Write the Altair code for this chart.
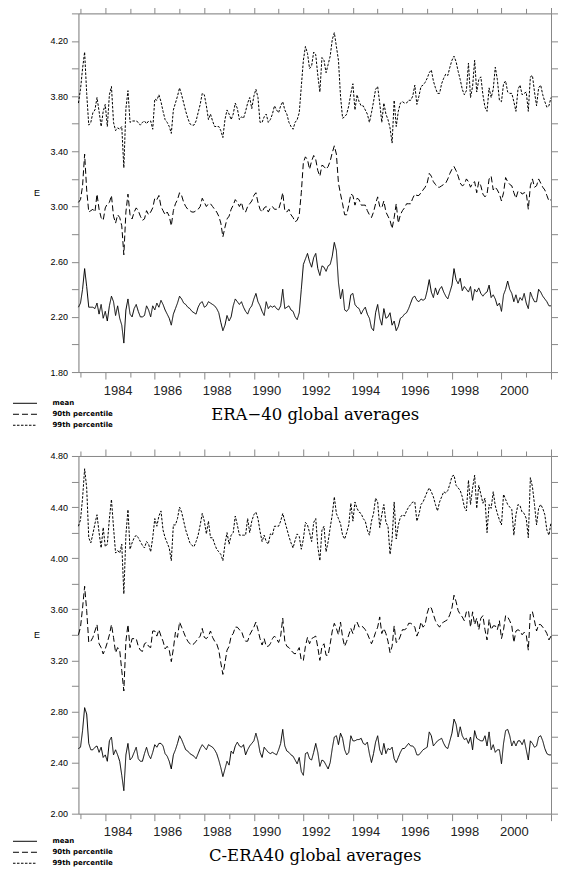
import json
import altair as alt
import pandas as pd

# monthly series, first value = Dec 1982, last = Jan 2002
START_YEAR = 1982 + 11 / 12
END_YEAR = 2002.0
SERIES = ["mean", "90th percentile", "99th percentile"]
DASHES = [[1, 0], [6, 3], [2.5, 1.5]]
YEAR_TICKS = list(range(1983, 2003))
YEAR_LABELS = [1984, 1986, 1988, 1990, 1992, 1994, 1996, 1998, 2000]

Y1_TICKS = [1.8, 2.0, 2.2, 2.4, 2.6, 2.8, 3.0, 3.2, 3.4, 3.6, 3.8, 4.0, 4.2, 4.4]
Y1_LABELS = ["1.80", "2.20", "2.60", "3.00", "3.40", "3.80", "4.20"]
Y2_TICKS = [2.0, 2.2, 2.4, 2.6, 2.8, 3.0, 3.2, 3.4, 3.6, 3.8, 4.0, 4.2, 4.4, 4.6, 4.8]
Y2_LABELS = ["2.00", "2.40", "2.80", "3.20", "3.60", "4.00", "4.40", "4.80"]

TITLE1 = "ERA\u221240 global averages"
TITLE2 = "C-ERA40 global averages"

# ---------------- ERA-40 ----------------
P1_MEAN = [
    2.27, 2.30, 2.40, 2.55, 2.42, 2.27, 2.27, 2.27, 2.26, 2.30,
    2.22, 2.29, 2.19, 2.24, 2.17, 2.28, 2.35, 2.31, 2.21, 2.28,
    2.19, 2.14, 2.01, 2.25, 2.33, 2.22, 2.20, 2.26, 2.29, 2.24,
    2.20, 2.20, 2.21, 2.28, 2.25, 2.20, 2.28, 2.25, 2.30, 2.27,
    2.32, 2.29, 2.25, 2.22, 2.19, 2.14, 2.22, 2.26, 2.30, 2.35,
    2.33, 2.30, 2.29, 2.27, 2.26, 2.24, 2.23, 2.22, 2.27, 2.30,
    2.31, 2.27, 2.28, 2.31, 2.30, 2.29, 2.28, 2.26, 2.23, 2.16,
    2.10, 2.14, 2.21, 2.17, 2.20, 2.28, 2.33, 2.31, 2.29, 2.31,
    2.27, 2.24, 2.22, 2.26, 2.28, 2.33, 2.37, 2.31, 2.28, 2.24,
    2.21, 2.31, 2.26, 2.28, 2.27, 2.28, 2.26, 2.25, 2.28, 2.40,
    2.26, 2.27, 2.28, 2.25, 2.24, 2.20, 2.18, 2.23, 2.40, 2.58,
    2.62, 2.66, 2.60, 2.56, 2.63, 2.66, 2.55, 2.50, 2.57, 2.56,
    2.53, 2.57, 2.58, 2.64, 2.74, 2.68, 2.45, 2.33, 2.40, 2.25,
    2.24, 2.26, 2.36, 2.37, 2.29, 2.27, 2.26, 2.22, 2.25, 2.27,
    2.22, 2.19, 2.12, 2.10, 2.23, 2.29, 2.19, 2.14, 2.26, 2.19,
    2.20, 2.23, 2.14, 2.17, 2.10, 2.13, 2.19, 2.20, 2.22, 2.23,
    2.26, 2.30, 2.34, 2.35, 2.32, 2.31, 2.33, 2.32, 2.33, 2.39,
    2.47, 2.38, 2.34, 2.41, 2.36, 2.40, 2.42, 2.38, 2.35, 2.33,
    2.38, 2.43, 2.55, 2.47, 2.44, 2.48, 2.39, 2.42, 2.40, 2.38,
    2.42, 2.32, 2.40, 2.38, 2.41, 2.37, 2.35, 2.37, 2.38, 2.43,
    2.34, 2.36, 2.33, 2.28, 2.30, 2.24, 2.36, 2.40, 2.46, 2.40,
    2.37, 2.31, 2.36, 2.30, 2.34, 2.32, 2.37, 2.30, 2.26, 2.38,
    2.34, 2.31, 2.31, 2.40, 2.38, 2.35, 2.33, 2.31, 2.28, 2.28,
]
P1_P90 = [
    3.03, 3.05, 3.15, 3.38, 3.12, 2.96, 2.97, 2.98, 2.96, 3.09,
    2.98, 2.92, 2.90, 2.99, 3.02, 3.03, 3.08, 2.93, 2.88, 2.94,
    2.92, 2.86, 2.65, 2.96, 3.09, 2.94, 2.91, 2.96, 2.99, 2.97,
    2.93, 2.90, 2.91, 2.97, 2.94, 2.96, 2.99, 3.06, 3.05, 3.08,
    3.00, 2.97, 2.94, 2.96, 2.93, 2.86, 2.97, 3.02, 3.05, 3.10,
    3.08, 3.03, 3.00, 2.98, 2.97, 2.96, 2.96, 2.97, 2.98, 3.00,
    3.06, 3.03, 3.00, 3.02, 3.02, 3.00, 2.98, 2.96, 2.93, 2.88,
    2.78, 2.85, 2.91, 2.93, 2.98, 3.01, 3.05, 3.03, 3.00, 3.03,
    2.97, 2.96, 3.00, 3.02, 3.04, 3.08, 3.10, 3.03, 2.98, 2.96,
    2.99, 3.00, 2.96, 2.99, 3.00, 2.98, 2.98, 2.98, 3.03, 3.10,
    2.97, 2.96, 2.98, 2.94, 2.92, 2.89, 2.90, 2.94, 3.10, 3.32,
    3.36, 3.34, 3.27, 3.33, 3.37, 3.34, 3.26, 3.22, 3.30, 3.29,
    3.27, 3.29, 3.33, 3.39, 3.44, 3.38, 3.17, 3.09, 3.02, 2.94,
    2.94, 3.01, 3.09, 3.08, 3.01, 3.06, 3.05, 3.01, 3.01, 3.01,
    2.97, 2.94, 2.92, 2.96, 3.02, 3.07, 3.00, 2.99, 3.04, 2.96,
    2.93, 2.90, 2.84, 2.92, 3.02, 2.88, 2.94, 2.97, 2.99, 3.02,
    3.02, 3.02, 3.06, 3.09, 3.08, 3.08, 3.10, 3.12, 3.14, 3.17,
    3.24, 3.22, 3.18, 3.16, 3.14, 3.14, 3.15, 3.16, 3.17, 3.20,
    3.24, 3.27, 3.29, 3.26, 3.22, 3.17, 3.15, 3.16, 3.20, 3.18,
    3.14, 3.17, 3.18, 3.10, 3.18, 3.15, 3.09, 3.07, 3.09, 3.20,
    3.22, 3.12, 3.14, 3.12, 3.09, 3.04, 3.10, 3.21, 3.18, 3.16,
    3.15, 3.10, 3.06, 3.11, 3.11, 3.09, 3.10, 3.10, 2.98, 3.15,
    3.20, 3.14, 3.15, 3.20, 3.17, 3.14, 3.12, 3.08, 3.04, 3.05,
]
P1_P99 = [
    3.75, 3.85, 4.00, 4.12, 3.82, 3.59, 3.61, 3.68, 3.70, 3.79,
    3.69, 3.58, 3.69, 3.74, 3.58, 3.81, 3.87, 3.61, 3.55, 3.57,
    3.56, 3.58, 3.28, 3.71, 3.84, 3.61, 3.62, 3.62, 3.62, 3.61,
    3.59, 3.61, 3.62, 3.60, 3.62, 3.62, 3.56, 3.78, 3.77, 3.81,
    3.76, 3.69, 3.63, 3.61, 3.58, 3.53, 3.70, 3.75, 3.80, 3.86,
    3.81, 3.75, 3.69, 3.64, 3.60, 3.59, 3.59, 3.62, 3.68, 3.74,
    3.82, 3.81, 3.73, 3.63, 3.67, 3.62, 3.58, 3.58, 3.58, 3.55,
    3.50, 3.63, 3.70, 3.67, 3.63, 3.67, 3.75, 3.71, 3.63, 3.65,
    3.64, 3.69, 3.75, 3.79, 3.71, 3.80, 3.85, 3.79, 3.61, 3.61,
    3.65, 3.67, 3.61, 3.63, 3.67, 3.73, 3.70, 3.68, 3.73, 3.76,
    3.70, 3.67, 3.61, 3.58, 3.56, 3.61, 3.63, 3.68, 3.87, 4.06,
    4.16, 4.11, 4.00, 4.02, 4.12, 4.10, 3.95, 3.83, 4.08, 4.06,
    3.97, 4.03, 4.09, 4.21, 4.26, 4.16, 4.06, 3.80, 3.64, 3.65,
    3.67, 3.73, 3.82, 3.89, 3.70, 3.81, 3.76, 3.73, 3.73, 3.70,
    3.67, 3.61, 3.68, 3.76, 3.85, 3.87, 3.75, 3.61, 3.75, 3.67,
    3.63, 3.57, 3.46, 3.77, 3.58, 3.69, 3.75, 3.76, 3.75, 3.75,
    3.77, 3.77, 3.80, 3.88, 3.74, 3.80, 3.87, 3.88, 3.90, 3.93,
    3.97, 3.99, 3.91, 3.86, 3.82, 3.82, 3.89, 3.93, 3.96, 3.95,
    4.01, 4.06, 4.09, 4.05, 3.98, 3.92, 3.85, 3.81, 3.84, 4.04,
    3.79, 3.87, 4.06, 3.83, 3.92, 3.94, 3.81, 3.72, 3.69, 3.86,
    3.79, 3.85, 4.01, 3.92, 3.77, 3.76, 3.89, 3.91, 3.83, 3.82,
    3.82, 3.76, 3.69, 3.85, 3.88, 3.81, 3.82, 3.83, 3.69, 3.94,
    3.95, 3.83, 3.73, 3.86, 3.88, 3.81, 3.76, 3.72, 3.73, 3.79,
]

# ---------------- C-ERA40 ----------------
P2_MEAN = [
    2.51, 2.52, 2.65, 2.83, 2.78, 2.55, 2.50, 2.50, 2.52, 2.53,
    2.48, 2.52, 2.44, 2.46, 2.41, 2.57, 2.60, 2.46, 2.50, 2.46,
    2.41, 2.30, 2.18, 2.46, 2.55, 2.42, 2.44, 2.48, 2.52, 2.43,
    2.41, 2.41, 2.47, 2.52, 2.46, 2.43, 2.48, 2.54, 2.52, 2.55,
    2.55, 2.53, 2.47, 2.45, 2.41, 2.35, 2.46, 2.50, 2.55, 2.61,
    2.58, 2.54, 2.50, 2.49, 2.47, 2.46, 2.45, 2.43, 2.47, 2.51,
    2.54, 2.52, 2.50, 2.54, 2.53, 2.52, 2.50, 2.47, 2.42, 2.36,
    2.29, 2.35, 2.41, 2.38, 2.49, 2.47, 2.53, 2.56, 2.53, 2.52,
    2.54, 2.46, 2.50, 2.53, 2.55, 2.57, 2.63, 2.57, 2.48, 2.44,
    2.52, 2.50, 2.48, 2.47, 2.48, 2.47, 2.46, 2.50, 2.55, 2.66,
    2.53, 2.49, 2.48, 2.46, 2.45, 2.42, 2.39, 2.44, 2.33, 2.30,
    2.47, 2.48, 2.43, 2.42, 2.48, 2.55, 2.48, 2.37, 2.42, 2.41,
    2.38, 2.35, 2.40, 2.51, 2.60, 2.61, 2.54, 2.63, 2.59, 2.50,
    2.46, 2.48, 2.61, 2.57, 2.57, 2.58, 2.58, 2.59, 2.55, 2.54,
    2.56, 2.47, 2.40, 2.47, 2.56, 2.61, 2.50, 2.46, 2.55, 2.47,
    2.51, 2.50, 2.52, 2.43, 2.40, 2.44, 2.48, 2.51, 2.51, 2.53,
    2.55, 2.53, 2.53, 2.51, 2.46, 2.46, 2.48, 2.50, 2.51, 2.52,
    2.64, 2.61, 2.53, 2.55, 2.57, 2.58, 2.59, 2.55, 2.52, 2.51,
    2.57, 2.63, 2.74, 2.70, 2.60, 2.68, 2.61, 2.58, 2.59, 2.55,
    2.60, 2.50, 2.65, 2.59, 2.58, 2.57, 2.57, 2.61, 2.53, 2.64,
    2.50, 2.54, 2.48, 2.50, 2.50, 2.39, 2.55, 2.65, 2.66, 2.61,
    2.53, 2.57, 2.53, 2.57, 2.57, 2.54, 2.58, 2.50, 2.42, 2.57,
    2.55, 2.52, 2.53, 2.60, 2.61, 2.57, 2.51, 2.47, 2.46, 2.46,
]
P2_P90 = [
    3.40, 3.46, 3.61, 3.78, 3.59, 3.34, 3.35, 3.38, 3.43, 3.48,
    3.33, 3.30, 3.25, 3.29, 3.34, 3.40, 3.48, 3.38, 3.26, 3.30,
    3.28, 3.12, 2.96, 3.35, 3.48, 3.30, 3.37, 3.37, 3.37, 3.31,
    3.28, 3.27, 3.33, 3.34, 3.31, 3.30, 3.43, 3.43, 3.39, 3.44,
    3.39, 3.35, 3.29, 3.31, 3.28, 3.19, 3.29, 3.42, 3.38, 3.50,
    3.46, 3.42, 3.38, 3.35, 3.33, 3.32, 3.33, 3.35, 3.37, 3.39,
    3.45, 3.38, 3.37, 3.39, 3.43, 3.38, 3.35, 3.33, 3.28, 3.18,
    3.09, 3.18, 3.28, 3.31, 3.39, 3.41, 3.46, 3.46, 3.44, 3.43,
    3.38, 3.35, 3.35, 3.40, 3.43, 3.46, 3.50, 3.44, 3.37, 3.32,
    3.37, 3.31, 3.31, 3.33, 3.37, 3.39, 3.37, 3.34, 3.39, 3.53,
    3.35, 3.31, 3.30, 3.28, 3.26, 3.25, 3.27, 3.30, 3.20, 3.20,
    3.31, 3.38, 3.33, 3.37, 3.38, 3.39, 3.30, 3.20, 3.31, 3.33,
    3.24, 3.24, 3.33, 3.43, 3.49, 3.45, 3.40, 3.50, 3.38, 3.31,
    3.35, 3.40, 3.45, 3.41, 3.48, 3.50, 3.46, 3.47, 3.46, 3.44,
    3.41, 3.37, 3.33, 3.37, 3.42, 3.46, 3.54, 3.41, 3.45, 3.41,
    3.35, 3.26, 3.31, 3.47, 3.34, 3.35, 3.39, 3.44, 3.44, 3.45,
    3.49, 3.49, 3.48, 3.46, 3.39, 3.43, 3.50, 3.46, 3.48, 3.57,
    3.62, 3.61, 3.56, 3.51, 3.48, 3.46, 3.49, 3.50, 3.51, 3.52,
    3.56, 3.61, 3.71, 3.66, 3.59, 3.56, 3.54, 3.51, 3.58, 3.59,
    3.46, 3.58, 3.48, 3.53, 3.44, 3.53, 3.55, 3.44, 3.36, 3.52,
    3.44, 3.47, 3.47, 3.44, 3.51, 3.37, 3.44, 3.55, 3.54, 3.51,
    3.47, 3.34, 3.43, 3.44, 3.43, 3.40, 3.42, 3.40, 3.28, 3.57,
    3.58, 3.51, 3.43, 3.48, 3.48, 3.46, 3.44, 3.41, 3.36, 3.39,
]
P2_P99 = [
    4.25, 4.30, 4.47, 4.70, 4.55, 4.16, 4.12, 4.19, 4.27, 4.34,
    4.20, 4.08, 4.24, 4.09, 4.11, 4.31, 4.46, 4.24, 4.04, 4.06,
    4.04, 4.11, 3.72, 4.18, 4.38, 4.07, 4.12, 4.16, 4.18, 4.16,
    4.13, 4.10, 4.08, 4.13, 4.11, 4.05, 4.16, 4.31, 4.25, 4.33,
    4.37, 4.22, 4.16, 4.12, 4.08, 3.98, 4.26, 4.26, 4.31, 4.40,
    4.36, 4.29, 4.22, 4.17, 4.12, 4.10, 4.09, 4.13, 4.18, 4.26,
    4.35, 4.29, 4.19, 4.29, 4.16, 4.16, 4.11, 4.07, 4.05, 4.03,
    3.98, 4.11, 4.20, 4.11, 4.18, 4.20, 4.33, 4.26, 4.18, 4.18,
    4.18, 4.18, 4.31, 4.20, 4.29, 4.34, 4.36, 4.31, 4.21, 4.13,
    4.18, 4.13, 4.11, 4.19, 4.18, 4.25, 4.25, 4.25, 4.29, 4.35,
    4.29, 4.23, 4.17, 4.12, 4.08, 4.14, 4.19, 4.17, 4.07, 4.15,
    4.28, 4.26, 4.20, 4.13, 4.28, 4.31, 4.09, 3.98, 4.22, 4.25,
    4.05, 4.13, 4.24, 4.34, 4.48, 4.35, 4.31, 4.27, 4.18, 4.15,
    4.20, 4.26, 4.43, 4.29, 4.44, 4.39, 4.36, 4.35, 4.31, 4.29,
    4.22, 4.18, 4.29, 4.35, 4.47, 4.44, 4.24, 4.34, 4.42, 4.28,
    4.25, 4.03, 4.15, 4.44, 4.15, 4.26, 4.32, 4.34, 4.33, 4.37,
    4.40, 4.42, 4.44, 4.44, 4.29, 4.34, 4.42, 4.44, 4.48, 4.52,
    4.55, 4.52, 4.48, 4.42, 4.37, 4.44, 4.48, 4.52, 4.51, 4.53,
    4.58, 4.64, 4.65, 4.57, 4.55, 4.53, 4.48, 4.40, 4.37, 4.61,
    4.42, 4.55, 4.65, 4.39, 4.57, 4.50, 4.43, 4.47, 4.20, 4.42,
    4.39, 4.52, 4.41, 4.35, 4.30, 4.26, 4.50, 4.46, 4.42, 4.40,
    4.38, 4.18, 4.34, 4.42, 4.41, 4.36, 4.35, 4.31, 4.16, 4.63,
    4.56, 4.42, 4.26, 4.39, 4.42, 4.39, 4.34, 4.22, 4.18, 4.28,
]

FONT = "DejaVu Sans"
PLOT_W = 473
HALF_YEAR_PX = PLOT_W / (END_YEAR - START_YEAR) / 2


def make_df(mean, p90, p99):
    rows = []
    for name, vals in zip(SERIES, (mean, p90, p99)):
        for i, v in enumerate(vals):
            rows.append({"year": START_YEAR + i / 12, "E": v, "series": name})
    return pd.DataFrame(rows)


def panel(df, ydomain, yticks, ylabels, title, w, h, legend_dy, row_h):
    xs = alt.Scale(domain=[START_YEAR, END_YEAR], nice=False, zero=False)
    ys = alt.Scale(domain=ydomain, nice=False, zero=False)
    ylab = ("indexof(%s, format(datum.value, '.2f')) >= 0 ? "
            "format(datum.value, '.2f') : ''") % json.dumps(ylabels)
    xlab = "indexof(%s, datum.value) >= 0 ? '' + datum.value : ''" % json.dumps(YEAR_LABELS)
    xtick = {"condition": {"test": "datum.value % 2 == 0", "value": 7}, "value": 5}
    base = alt.Chart(df)
    lines = base.mark_line(color="black", strokeWidth=1).encode(
        x=alt.X("year:Q", scale=xs, title=title,
                axis=alt.Axis(orient="bottom", values=YEAR_TICKS, tickSize=xtick,
                              labelExpr=xlab,
                              labelOffset=HALF_YEAR_PX, labelFlush=False,
                              labelOverlap=False,
                              labelPadding=5, labelFontSize=13, labelColor="#222",
                              grid=False, titleFont="DejaVu Serif", titleFontSize=16.5,
                              titleFontWeight="normal", titleColor="black",
                              titlePadding=9)),
        y=alt.Y("E:Q", scale=ys, title="E",
                axis=alt.Axis(orient="left", values=yticks, tickSize=7,
                              labelExpr=ylab, labelPadding=4, labelFontSize=9,
                              labelFlush=False, labelOverlap=False, grid=False,
                              titleAngle=0, titleX=-42, titleY=h / 2,
                              titleAlign="center", titleBaseline="middle",
                              titleFontSize=9, titleFontWeight="normal")),
        strokeDash=alt.StrokeDash(
            "series:N", scale=alt.Scale(domain=SERIES, range=DASHES),
            legend=alt.Legend(title=None, orient="none", legendX=-66,
                              legendY=h + legend_dy,
                              symbolType="stroke", symbolSize=576,
                              symbolStrokeWidth=1, symbolStrokeColor="black",
                              labelFont=FONT, labelFontSize=7, labelFontWeight="bold",
                              labelOffset=15, clipHeight=row_h, rowPadding=0,
                              padding=0)),
    )
    frame = base.mark_line(opacity=0).encode(
        x=alt.X("year:Q", scale=xs, title=None,
                axis=alt.Axis(orient="top", values=YEAR_TICKS, tickSize=xtick,
                              labels=False, grid=False)),
        y=alt.Y("E:Q", scale=ys, title=None,
                axis=alt.Axis(orient="right", values=yticks, tickSize=7,
                              labels=False, grid=False)),
        detail="series:N",
    )
    return (
        alt.layer(lines, frame)
        .resolve_scale(x="independent", y="independent")
        .properties(width=w, height=h)
    )


for s in (P1_MEAN, P1_P90, P1_P99, P2_MEAN, P2_P90, P2_P99):
    assert len(s) == 230, len(s)

top = panel(make_df(P1_MEAN, P1_P90, P1_P99), [1.8, 4.4], Y1_TICKS, Y1_LABELS,
            TITLE1, PLOT_W, 359, 25.75, 11)
bottom = panel(make_df(P2_MEAN, P2_P90, P2_P99), [2.0, 4.8], Y2_TICKS, Y2_LABELS,
               TITLE2, PLOT_W, 358, 22.5, 10.3)

chart = (
    alt.vconcat(top, bottom, spacing=16)
    .resolve_scale(x="independent", y="independent", strokeDash="independent")
    .resolve_legend(strokeDash="independent")
    .properties(padding={"left": 3.5, "top": -3, "right": -6, "bottom": -2.5})
    .configure_view(stroke="transparent")
    .configure_axis(domainColor="black", tickColor="black", domainWidth=1,
                    tickWidth=1, labelFont=FONT, titleFont=FONT,
                    labelColor="#222", titleColor="black")
    .configure(background="white")
)

chart.save("out.html", embed_options={"renderer": "svg", "actions": False})
